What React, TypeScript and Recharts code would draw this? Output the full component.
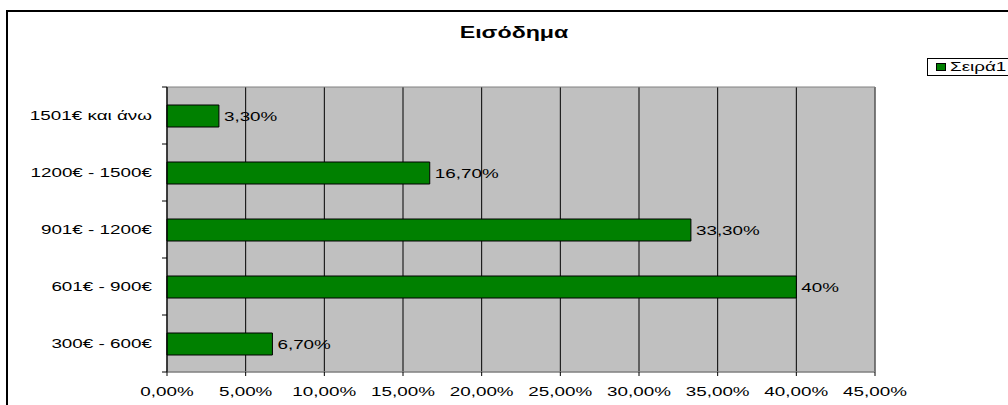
import React from 'react'
import { BarChart, Bar, XAxis, YAxis, CartesianGrid, ReferenceArea, LabelList } from 'recharts'

const categories = ['1501€ και άνω', '1200€ - 1500€', '901€ - 1200€', '601€ - 900€', '300€ - 600€']
const shares = [0.033, 0.167, 0.333, 0.4, 0.067]
const shareLabels = ['3,30%', '16,70%', '33,30%', '40%', '6,70%']
const xTicks = [0, 0.05, 0.1, 0.15, 0.2, 0.25, 0.3, 0.35, 0.4, 0.45]
const seriesName = 'Σειρά1'
const title = 'Εισόδημα'

const data = categories.map((name, i) => ({ name, value: shares[i], label: shareLabels[i] }))

const W = 1008
const H = 405
const PLOT_TOP = 87
const PLOT_BOTTOM = 372
const Y_AXIS_W = 167
const FONT = '"Liberation Sans", Arial, sans-serif'
const STRETCH = 1.45

const fmtPct = (v: number) => (v * 100).toFixed(2).replace('.', ',') + '%'

const Stretched = ({ x, y, anchor, children }: any) => (
  <text
    transform={`translate(${x},${y}) scale(${STRETCH},1)`}
    textAnchor={anchor}
    dominantBaseline="central"
    fontSize={13}
    fontFamily={FONT}
    fill="#000"
  >
    {children}
  </text>
)

const halfBand = (PLOT_BOTTOM - PLOT_TOP) / categories.length / 2

const CategoryTick = (props: any) => {
  const { y, payload, index } = props
  return (
    <g>
      <Stretched x={Y_AXIS_W - 15} y={y} anchor="end">{payload.value}</Stretched>
      <line x1={Y_AXIS_W - 5} x2={Y_AXIS_W} y1={y - halfBand} y2={y - halfBand} stroke="#000" />
      {index === categories.length - 1 && (
        <line x1={Y_AXIS_W - 5} x2={Y_AXIS_W} y1={y + halfBand} y2={y + halfBand} stroke="#000" />
      )}
    </g>
  )
}

const ValueTick = (props: any) => {
  const { x, payload } = props
  return <Stretched x={x} y={391} anchor="middle">{fmtPct(payload.value)}</Stretched>
}

const BarLabel = (props: any) => {
  const { x, y, width, height, value } = props
  return <Stretched x={x + width + 5} y={y + height / 2} anchor="start">{value}</Stretched>
}

export default function App() {
  return (
    <div style={{ position: 'absolute', left: 0, top: 0, width: W, height: H, overflow: 'hidden', background: '#fff' }}>
      <div style={{ position: 'absolute', left: 6, top: 10, width: W + 20, height: H + 20, border: '2px solid #000' }} />
      <div
        style={{
          position: 'absolute', left: 314, top: 25, width: 400, textAlign: 'center',
          fontFamily: FONT, fontWeight: 'bold', fontSize: 16, lineHeight: '16px',
          transform: `scaleX(${STRETCH})`,
        }}
      >
        {title}
      </div>
      <div style={{ position: 'absolute', left: 927, top: 58, width: 120, height: 16, border: '1px solid #000', background: '#fff' }}>
        <div style={{ position: 'absolute', left: 8, top: 4, width: 8, height: 6, background: '#008000', border: '1px solid #000' }} />
        <div
          style={{
            position: 'absolute', left: 22, top: 0, fontFamily: FONT, fontSize: 13, lineHeight: '16px',
            transform: `scaleX(${STRETCH})`, transformOrigin: 'left center', whiteSpace: 'nowrap',
          }}
        >
          {seriesName}
        </div>
      </div>
      <div style={{ position: 'absolute', left: 0, top: 0 }}>
        <BarChart
          width={W}
          height={H}
          data={data}
          layout="vertical"
          margin={{ top: PLOT_TOP, right: 133, left: 0, bottom: 0 }}
          barSize={22}
        >
          <CartesianGrid horizontal={false} stroke="#000" fill="#C0C0C0" fillOpacity={1} />
          <ReferenceArea x1={0} x2={0.45} fill="none" stroke="#808080" ifOverflow="visible" />
          <XAxis
            type="number"
            domain={[0, 0.45]}
            ticks={xTicks}
            height={H - PLOT_BOTTOM}
            axisLine={{ stroke: '#808080' }}
            tickLine={{ stroke: '#000' }}
            tickSize={4}
            tick={<ValueTick />}
            interval={0}
          />
          <YAxis
            type="category"
            dataKey="name"
            width={Y_AXIS_W}
            axisLine={{ stroke: '#000' }}
            tickLine={false}
            tick={<CategoryTick />}
            interval={0}
          />
          <Bar dataKey="value" fill="#008000" stroke="#000" strokeWidth={1} isAnimationActive={false}>
            <LabelList dataKey="label" content={<BarLabel />} />
          </Bar>
        </BarChart>
      </div>
    </div>
  )
}
